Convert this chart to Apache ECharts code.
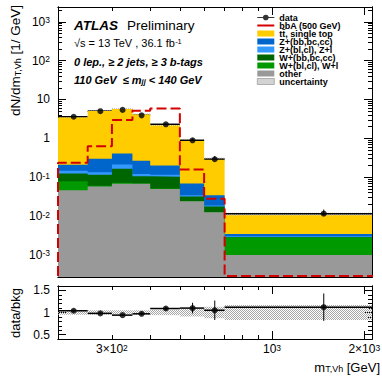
<!DOCTYPE html>
<html>
<head>
<meta charset="utf-8">
<script src="https://cdn.jsdelivr.net/npm/echarts@6/dist/echarts.min.js"></script>
<style>
  html, body { margin: 0; padding: 0; background: #fff; }
  #chart { width: 382px; height: 376px; }
</style>
</head>
<body>
<div id="chart"></div>
<script>
// bin edges in GeV (the last bin runs past the end of the axis)
const binEdges = [200, 250, 300, 350, 400, 500, 600, 700, 2250]
// background per bin, 1/GeV
const ttbar = [3.24, 4.75, 5.24, 3.84, 1.95, 0.781, 0.246, 0.0070]
const zHF = [0.063, 0.164, 0.197, 0.145, 0.085, 0.0344, 0.0157, 0.0004]
const zLF = [0.021, 0.020, 0.049, 0.014, 0.013, 0.0026, 0.0011, 0.0002]
const wHF = [0.046, 0.055, 0.092, 0.037, 0.051, 0.0074, 0.0048, 0.00003]
const wLF = [0.033, 0.002, 0.004, 0.001, 0.001, 0.0003, 0.0002, 0.0018]
const other = [0.046, 0.058, 0.068, 0.068, 0.050, 0.024, 0.0125, 0.0010]
const bkgUnc = [0.05, 0.05, 0.05, 0.05, 0.06, 0.09, 0.13, 0.17] // relative
const signal = [0.235, 0.63, 2.95, 5.1, 5.85, 0.158, 0.028, 0.00001] // bbA 500 GeV
const dataVals = [3.6, 5.0, 5.4, 3.9, 2.3, 0.89, 0.29, 0.0115]
const ratioVals = [1.04, 0.98, 0.94, 0.97, 1.09, 1.10, 1.05, 1.12]
const ratioErr = [0.03, 0.02, 0.02, 0.03, 0.04, 0.12, 0.22, 0.31]

// axis ticks / labels
const yLabelValues = [1e-3, 1e-2, 1e-1, 1, 10, 100, 1000]
const xLabelValues = [300, 1000, 2000]
const xMajorTicks = [1000, 2000]
const xMinorTicks = [200, 300, 400, 500, 600, 700, 800, 900]
const ratioLabelValues = [0.5, 1, 1.5]
const ratioMinorTicks = [0.4, 0.6, 0.7, 0.8, 0.9, 1.1, 1.2, 1.3, 1.4, 1.6]
const yMinorTicks = []
for (let e = -4; e <= 3; e++) {
  for (let m = 2; m <= 9; m++) yMinorTicks.push(m * Math.pow(10, e))
}

const xMin = 200, xMax = 2120
const yMin = 2.7e-4, yMax = 2400
const floorVal = yMin * 1.06 // off-scale bins are drawn on the frame, like ROOT does
const font = 'Liberation Sans, Arial, Helvetica, sans-serif'
const ttName = 't\u0074\u0304, single top'

// grey stipple used for the uncertainty
const stipple = document.createElement('canvas')
stipple.width = 2
stipple.height = 2
const sctx = stipple.getContext('2d')
sctx.fillStyle = '#a6a6a6'
sctx.fillRect(0, 0, 1, 1)
sctx.fillRect(1, 1, 1, 1)
const hatch = { image: stipple, repeat: 'repeat', imageWidth: 2, imageHeight: 2 }

const layers = [
  { name: 'other', vals: other, color: '#999999' },
  { name: 'W+(bl,cl), W+l', vals: wLF, color: '#009900' },
  { name: 'W+(bb,bc,cc)', vals: wHF, color: '#006600' },
  { name: 'Z+(bl,cl), Z+l', vals: zLF, color: '#3399ff' },
  { name: 'Z+(bb,bc,cc)', vals: zHF, color: '#0066cc' },
  { name: ttName, vals: ttbar, color: '#ffcc00' },
]

// running sums, bottom layer first
const running = binEdges.slice(1).map(() => 0)
layers.forEach((l) => {
  l.cum = l.vals.map((v, i) => (running[i] += v))
})
const total = running.slice()

const stepPoints = (vals) => {
  const pts = []
  vals.forEach((v, i) => {
    pts.push([binEdges[i], v], [binEdges[i + 1], v])
  })
  return pts
}

const signalPoints = [[binEdges[0], floorVal]].concat(stepPoints(signal.map((v) => Math.max(v, floorVal))))

const lo = binEdges.slice(0, -1)
const hi = binEdges.slice(1)
const centers = lo.map((l, i) => (l + hi[i]) / 2)

const mainBand = total.map((t, i) => [lo[i], hi[i], t * (1 - bkgUnc[i]), t * (1 + bkgUnc[i])])
const ratioBand = bkgUnc.map((u, i) => [lo[i], hi[i], 1 - u, 1 + u])
const mainData = dataVals.map((d, i) => {
  const rel = ratioErr[i] / ratioVals[i]
  return [lo[i], hi[i], centers[i], d, d * (1 - rel), d * (1 + rel)]
})
const ratioData = ratioVals.map((r, i) => [lo[i], hi[i], centers[i], r, r - ratioErr[i], r + ratioErr[i]])

function powLabel(v) {
  const e = Math.floor(Math.log10(v) + 1e-9)
  const m = Math.round(v / Math.pow(10, e))
  if (e === 0 && m === 1) return '1'
  if (e === 1 && m === 1) return '10'
  const p = '10{sup|' + e + '}'
  return m === 1 ? p : m + '\u00d7' + p
}

const labelStyle = {
  fontSize: 12, color: '#000', fontFamily: font,
  rich: { sup: { fontSize: 8.5, color: '#000', fontFamily: font, verticalAlign: 'top' } },
}

function makeAxis(kind, grid, pos, ticks, len, labels, extra) {
  const ax = {
    type: kind, gridIndex: grid, position: pos,
    axisLine: { show: true, onZero: false, lineStyle: { color: '#000', width: 1 } },
    axisTick: { show: true, inside: true, length: len, customValues: ticks, lineStyle: { color: '#000', width: 1 } },
    axisLabel: labels ? Object.assign({ show: true, customValues: labels }, labelStyle) : { show: false },
    splitLine: { show: false },
    minorTick: { show: false },
  }
  return Object.assign(ax, extra)
}

const xLog = { min: xMin, max: xMax, logBase: 10 }
const yLog = { min: yMin, max: yMax, logBase: 10 }
const yRatio = { min: 0.4, max: 1.6 }

const xAxes = [
  makeAxis('log', 0, 'bottom', xMajorTicks, 8, null, xLog),
  makeAxis('log', 0, 'bottom', xMinorTicks, 4, null, xLog),
  makeAxis('log', 0, 'top', xMajorTicks, 8, null, xLog),
  makeAxis('log', 0, 'top', xMinorTicks, 4, null, xLog),
  makeAxis('log', 1, 'bottom', xMajorTicks, 8, xLabelValues, xLog),
  makeAxis('log', 1, 'bottom', xMinorTicks, 4, null, xLog),
  makeAxis('log', 1, 'top', xMajorTicks, 8, null, xLog),
  makeAxis('log', 1, 'top', xMinorTicks, 4, null, xLog),
]
xAxes[4].axisLabel.formatter = powLabel
xAxes[4].axisLabel.margin = 4

const yAxes = [
  makeAxis('log', 0, 'left', yLabelValues, 8, yLabelValues, yLog),
  makeAxis('log', 0, 'left', yMinorTicks, 4, null, yLog),
  makeAxis('log', 0, 'right', yLabelValues, 8, null, yLog),
  makeAxis('log', 0, 'right', yMinorTicks, 4, null, yLog),
  makeAxis('value', 1, 'left', ratioLabelValues, 8, ratioLabelValues, yRatio),
  makeAxis('value', 1, 'left', ratioMinorTicks, 4, null, yRatio),
  makeAxis('value', 1, 'right', ratioLabelValues, 8, null, yRatio),
  makeAxis('value', 1, 'right', ratioMinorTicks, 4, null, yRatio),
]
yAxes[0].axisLabel.formatter = powLabel
yAxes[4].axisLabel.formatter = (v) => String(v)

function errorBarItem(params, api) {
  const y = api.value(3)
  const a = api.coord([api.value(0), y])
  const b = api.coord([api.value(1), y])
  const c = api.coord([api.value(2), api.value(4)])
  const d = api.coord([api.value(2), api.value(5)])
  return {
    type: 'group',
    children: [
      { type: 'line', shape: { x1: a[0], y1: a[1], x2: b[0], y2: b[1] }, style: { stroke: '#000', lineWidth: 1.5 } },
      { type: 'line', shape: { x1: c[0], y1: c[1], x2: d[0], y2: d[1] }, style: { stroke: '#000', lineWidth: 1 } },
    ],
  }
}

function bandItem(params, api) {
  const p0 = api.coord([api.value(0), api.value(3)])
  const p1 = api.coord([api.value(1), api.value(2)])
  return {
    type: 'rect',
    shape: { x: p0[0], y: p0[1], width: p1[0] - p0[0], height: p1[1] - p0[1] },
    style: { fill: hatch },
  }
}

const series = []
layers.slice().reverse().forEach((l) => {
  series.push({
    name: l.name, type: 'line', xAxisIndex: 0, yAxisIndex: 0,
    data: stepPoints(l.cum), showSymbol: false, color: l.color,
    lineStyle: { width: 0 }, areaStyle: { color: l.color, opacity: 1, origin: 'start' },
  })
})
series.push(
  {
    name: 'uncertainty', type: 'custom', xAxisIndex: 0, yAxisIndex: 0, clip: true,
    renderItem: bandItem, data: mainBand, itemStyle: { color: hatch },
    encode: { x: [0, 1], y: [2, 3] },
  },
  {
    name: 'bbA (500 GeV)', type: 'line', xAxisIndex: 0, yAxisIndex: 0, z: 3,
    data: signalPoints, showSymbol: false, color: '#d40000',
    lineStyle: { color: '#d40000', width: 2, type: [10, 4] },
  },
  {
    name: 'data', type: 'scatter', xAxisIndex: 0, yAxisIndex: 0,
    data: centers.map((c, i) => [c, dataVals[i]]), symbolSize: 6, itemStyle: { color: '#000' }, z: 4,
  },
  {
    name: 'data', type: 'custom', xAxisIndex: 0, yAxisIndex: 0, clip: true,
    renderItem: errorBarItem, data: mainData, itemStyle: { color: '#000' },
    encode: { x: [0, 1, 2], y: [3, 4, 5] },
  },
  {
    name: 'uncertainty', type: 'custom', xAxisIndex: 4, yAxisIndex: 4, clip: true,
    renderItem: bandItem, data: ratioBand, itemStyle: { color: hatch },
    encode: { x: [0, 1], y: [2, 3] },
  },
  {
    name: 'data', type: 'custom', xAxisIndex: 4, yAxisIndex: 4, clip: true,
    renderItem: errorBarItem, data: ratioData, itemStyle: { color: '#000' },
    encode: { x: [0, 1, 2], y: [3, 4, 5] },
  },
  {
    name: 'data', type: 'scatter', xAxisIndex: 4, yAxisIndex: 4,
    data: centers.map((c, i) => [c, ratioVals[i]]), symbolSize: 6, itemStyle: { color: '#000' }, z: 4,
  }
)

const textBase = { fill: '#000', fontFamily: font }

const chart = echarts.init(document.getElementById('chart'), null, { renderer: 'svg' })
chart.setOption({
  animation: false,
  backgroundColor: '#fff',
  grid: [
    { left: 58, right: 10, top: 7, height: 270, outerBoundsMode: 'none' },
    { left: 58, right: 10, top: 286, height: 53, outerBoundsMode: 'none' },
  ],
  xAxis: xAxes,
  yAxis: yAxes,
  legend: {
    orient: 'vertical', left: 257, top: 13, padding: 0, itemGap: -1.0,
    itemWidth: 17, itemHeight: 6, selectedMode: false,
    textStyle: { fontSize: 9, fontWeight: 'bold', color: '#000', fontFamily: font },
    data: [
      { name: 'data', icon: 'path://M0,3.5H18V4.5H0Z M6,4A3,3 0 1 1 12,4A3,3 0 1 1 6,4Z', itemStyle: { color: '#000' } },
      { name: 'bbA (500 GeV)', icon: 'path://M0,0H17V2H0Z' },
      { name: ttName, icon: 'rect' },
      { name: 'Z+(bb,bc,cc)', icon: 'rect' },
      { name: 'Z+(bl,cl), Z+l', icon: 'rect' },
      { name: 'W+(bb,bc,cc)', icon: 'rect' },
      { name: 'W+(bl,cl), W+l', icon: 'rect' },
      { name: 'other', icon: 'rect' },
      { name: 'uncertainty', icon: 'rect', itemStyle: { color: hatch, borderColor: '#888', borderWidth: 0.6 } },
    ],
  },
  graphic: [
    { type: 'text', x: 74, y: 25, style: Object.assign({ text: 'ATLAS', fontSize: 13.5, fontWeight: 'bold', fontStyle: 'italic', align: 'left', verticalAlign: 'middle' }, textBase) },
    { type: 'text', x: 127, y: 25, style: Object.assign({ text: 'Preliminary', fontSize: 13.5, align: 'left', verticalAlign: 'middle' }, textBase) },
    {
      type: 'text', x: 74, y: 43,
      style: Object.assign({
        text: '\u221as = 13 TeV , 36.1 fb{sup|-1}', fontSize: 11, align: 'left', verticalAlign: 'middle',
        rich: { sup: { fontSize: 7.5, verticalAlign: 'top', fontFamily: font, fill: '#000' } },
      }, textBase),
    },
    { type: 'text', x: 74, y: 62, style: Object.assign({ text: '0 lep., \u2265 2 jets, \u2265 3 b-tags', fontSize: 11, fontWeight: 'bold', fontStyle: 'italic', align: 'left', verticalAlign: 'middle' }, textBase) },
    {
      type: 'text', x: 74, y: 80,
      style: Object.assign({
        text: '110 GeV  \u2264 m{sub|jj} < 140 GeV', fontSize: 11, fontWeight: 'bold', fontStyle: 'italic', align: 'left', verticalAlign: 'middle',
        rich: { sub: { fontSize: 7.5, fontWeight: 'bold', fontStyle: 'italic', verticalAlign: 'bottom', fontFamily: font, fill: '#000' } },
      }, textBase),
    },
    {
      type: 'text', x: 15, y: 5, rotation: Math.PI / 2,
      style: Object.assign({
        text: 'dN/dm{sub|T,Vh} [1/ GeV]', fontSize: 13.5, align: 'right', verticalAlign: 'middle',
        rich: { sub: { fontSize: 9, verticalAlign: 'bottom', fontFamily: font, fill: '#000' } },
      }, textBase),
    },
    { type: 'text', x: 15, y: 313, rotation: Math.PI / 2, style: Object.assign({ text: 'data/bkg', fontSize: 13, align: 'center', verticalAlign: 'middle' }, textBase) },
    {
      type: 'text', x: 380, y: 367,
      style: Object.assign({
        text: 'm{sub|T,Vh} [GeV]', fontSize: 13, align: 'right', verticalAlign: 'middle',
        rich: { sub: { fontSize: 9, verticalAlign: 'bottom', fontFamily: font, fill: '#000' } },
      }, textBase),
    },
  ],
  series: series,
})
</script>
</body>
</html>
